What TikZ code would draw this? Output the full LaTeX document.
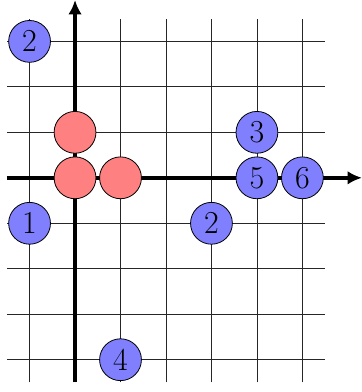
\documentclass[tikz,border=0pt]{standalone}
\usetikzlibrary{arrows.meta}
\begin{document}
\begin{tikzpicture}[
  gridline/.style={line width=0.5pt, black!85},
  axis/.style={line width=2.4pt, -{Latex[length=9pt,width=8.5pt]}},
  bluedot/.style={circle, draw=black, line width=0.5pt, fill=blue!50, minimum size=0.92cm, inner sep=0pt, font=\fontsize{20}{24}\selectfont},
  reddot/.style={circle, draw=black, line width=0.5pt, fill=red!50, minimum size=0.92cm, inner sep=0pt}
]
\useasboundingbox (-1.65,-4.71) rectangle (6.31,3.91);
\draw[gridline] (-1.5,-4.5) grid (5.5,3.5);
\coordinate (xs) at (-1.5,0);
\coordinate (xe) at (6.31,0);
\coordinate (ys) at (0,-4.5);
\coordinate (ye) at (0,3.91);
\draw[axis] (xs) -- (xe);
\draw[axis] (ys) -- (ye);
\node[reddot] (r1) at (0,1) {};
\node[reddot] (r2) at (0,0) {};
\node[reddot] (r3) at (1,0) {};
\node[bluedot] (b2a) at (-1,3) {2};
\node[bluedot] (b1) at (-1,-1) {1};
\node[bluedot] (b3) at (4,1) {3};
\node[bluedot] (b5) at (4,0) {5};
\node[bluedot] (b6) at (5,0) {6};
\node[bluedot] (b2b) at (3,-1) {2};
\node[bluedot] (b4) at (1,-4) {4};
\end{tikzpicture}
\end{document}
